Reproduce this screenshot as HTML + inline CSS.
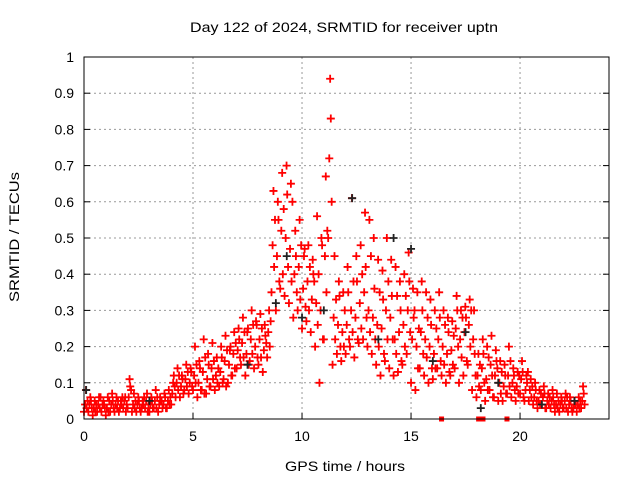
<!DOCTYPE html>
<html><head><meta charset="utf-8"><style>
body{margin:0;background:#fff;}
svg text{font-family:"Liberation Sans",sans-serif;font-size:14px;fill:#000;}
</style></head><body>
<svg id="chart" width="640" height="480" xmlns="http://www.w3.org/2000/svg">
<rect width="640" height="480" fill="#fff"/>
<text x="190" y="32" textLength="308" lengthAdjust="spacingAndGlyphs">Day 122 of 2024, SRMTID for receiver uptn</text>
<g id="grid"></g>
<g id="ticks"></g>
<g id="marks"></g>
<rect x="84" y="57" width="525" height="362" fill="none" stroke="#000" stroke-width="1"/>
<text x="285" y="471" textLength="120" lengthAdjust="spacingAndGlyphs">GPS time / hours</text>
<text transform="translate(19,302) rotate(-90)" textLength="130" lengthAdjust="spacingAndGlyphs">SRMTID / TECUs</text>
</svg>
<script>
const xTicks=[0,5,10,15,20];
const yTicks=[0,0.1,0.2,0.3,0.4,0.5,0.6,0.7,0.8,0.9,1];
const yTickLabels=["0","0.1","0.2","0.3","0.4","0.5","0.6","0.7","0.8","0.9","1"];
const step=0.2;
const hi=[0.08,0.06,0.05,0.06,0.05,0.06,0.07,0.06,0.05,0.06,0.11,0.07,0.06,0.05,0.07,0.06,0.08,0.06,0.07,0.08,
0.10,0.14,0.12,0.15,0.14,
0.20,0.16,0.22,0.18,0.21,0.17,0.20,0.23,0.19,0.24,
0.25,0.28,0.24,0.30,0.27,0.29,0.26,0.30,
0.63,0.60,0.68,0.70,0.65,
0.52,0.55,0.45,0.48,0.44,
0.56,0.50,0.67,
0.94,
0.45,0.38,0.35,
0.42,0.61,0.45,0.48,0.57,0.55,0.50,0.44,0.41,0.50,
0.44,0.42,0.38,0.40,0.46,0.36,0.35,0.38,
0.35,0.33,0.30,0.35,0.30,0.28,0.27,
0.34,0.30,0.31,0.33,0.30,
0.18,0.22,0.20,0.23,0.19,0.16,0.15,0.20,
0.14,0.13,0.16,0.12,0.11,
0.10,0.08,0.09,0.07,0.08,0.07,0.06,0.07,0.06,0.05,0.06,0.09];
const q3=[0.05,0.03,0.04,0.06,0.03,0.05,0.03,0.05,0.06,0.04,0.08,0.05,0.03,0.06,0.04,0.03,0.06,0.05,0.03,0.06,
0.09,0.12,0.07,0.13,0.09,
0.15,0.08,0.17,0.09,0.16,0.14,0.10,0.19,0.12,0.21,
0.17,0.24,0.15,0.26,0.17,0.25,0.21,0.27,
0.55,0.38,0.58,0.42,0.60,
0.35,0.48,0.31,0.42,0.38,
0.40,0.22,0.52,
0.60,
0.33,0.20,0.30,
0.22,0.38,0.22,0.40,0.28,0.45,0.22,0.35,0.18,0.38,
0.22,0.34,0.16,0.34,0.24,0.30,0.25,0.18,
0.28,0.14,0.25,0.16,0.26,0.13,0.23,
0.20,0.28,0.16,0.30,0.12,
0.15,0.10,0.17,0.06,0.14,0.13,0.07,0.16,
0.08,0.12,0.06,0.13,0.09,
0.05,0.07,0.03,0.06,0.04,0.05,0.03,0.06,0.03,0.04,0.05,0.04];
const mid=[0.04,0.04,0.03,0.04,0.04,0.03,0.04,0.04,0.03,0.05,0.06,0.04,0.04,0.03,0.05,0.04,0.05,0.04,0.04,0.05,
0.07,0.10,0.09,0.11,0.10,
0.12,0.10,0.13,0.11,0.14,0.12,0.13,0.16,0.15,0.18,
0.19,0.21,0.18,0.22,0.20,0.22,0.19,0.24,
0.48,0.45,0.52,0.50,0.47,
0.40,0.42,0.36,0.38,0.33,
0.32,0.30,0.45,
0.72,
0.28,0.26,0.24,
0.26,0.30,0.28,0.32,0.35,0.30,0.28,0.26,0.25,0.30,
0.28,0.22,0.24,0.26,0.30,0.22,0.20,0.24,
0.22,0.20,0.18,0.22,0.20,0.18,0.19,
0.25,0.22,0.24,0.26,0.22,
0.12,0.14,0.11,0.15,0.12,0.10,0.09,0.12,
0.10,0.09,0.11,0.08,0.08,
0.06,0.05,0.06,0.05,0.05,0.04,0.04,0.05,0.04,0.03,0.04,0.05];
const q1=[0.03,0.05,0.02,0.03,0.04,0.02,0.05,0.03,0.04,0.02,0.09,0.03,0.05,0.04,0.02,0.05,0.03,0.05,0.06,0.04,
0.12,0.08,0.11,0.09,0.13,
0.10,0.14,0.07,0.15,0.11,0.10,0.17,0.09,0.20,0.14,
0.22,0.17,0.25,0.18,0.26,0.17,0.23,0.20,
0.42,0.55,0.40,0.62,0.38,
0.45,0.33,0.47,0.30,0.40,
0.26,0.48,0.35,
0.83,
0.22,0.34,0.20,
0.35,0.24,0.38,0.25,0.42,0.24,0.36,0.20,0.33,0.22,
0.34,0.18,0.30,0.20,0.38,0.28,0.14,0.30,
0.17,0.26,0.14,0.28,0.15,0.24,0.15,
0.30,0.17,0.28,0.20,0.18,
0.09,0.18,0.08,0.12,0.16,0.07,0.12,0.09,
0.12,0.07,0.13,0.10,0.06,
0.08,0.04,0.07,0.04,0.06,0.03,0.05,0.03,0.05,0.04,0.03,0.07];
const lo=[0.02,0.02,0.01,0.02,0.02,0.01,0.02,0.02,0.02,0.03,0.03,0.02,0.02,0.02,0.03,0.02,0.03,0.02,0.03,0.03,
0.04,0.06,0.06,0.08,0.07,
0.08,0.06,0.08,0.07,0.09,0.08,0.09,0.11,0.10,0.12,
0.14,0.15,0.12,0.16,0.14,0.15,0.13,0.17,
0.35,0.30,0.36,0.34,0.32,
0.28,0.30,0.25,0.27,0.24,
0.20,0.10,0.22,
0.50,
0.15,0.18,0.16,
0.18,0.20,0.17,0.21,0.22,0.20,0.18,0.15,0.12,0.16,
0.14,0.12,0.13,0.15,0.18,0.10,0.08,0.14,
0.12,0.10,0.11,0.14,0.12,0.10,0.12,
0.14,0.10,0.12,0.15,0.08,
0.06,0.08,0.05,0.08,0.06,0.05,0.05,0.07,
0.06,0.05,0.07,0.05,0.05,
0.04,0.03,0.04,0.03,0.03,0.02,0.02,0.03,0.02,0.02,0.02,0.03];
const blackT=[0.1,3.0,7.5,8.8,9.3,10.0,11.0,12.3,13.5,14.2,15.0,16.0,17.5,18.2,19.0,21.0,22.5];
const blackV=[0.08,0.05,0.15,0.32,0.45,0.28,0.30,0.61,0.22,0.50,0.47,0.16,0.24,0.03,0.10,0.04,0.05];
const zeroT=[16.4,18.1,18.3,19.4];
const NS="http://www.w3.org/2000/svg";
const X0=84,X1=609,Y0=419,Y1=57,XMAX=24.08;
function xs(v){return X0+(X1-X0)*v/XMAX;}
function ys(v){return Y0-(Y0-Y1)*v;}
function mk(tag,a,p){const e=document.createElementNS(NS,tag);for(const k in a)e.setAttribute(k,a[k]);p.appendChild(e);return e;}
const grid=document.getElementById('grid'),ticks=document.getElementById('ticks'),marks=document.getElementById('marks');
xTicks.forEach(v=>{const x=xs(v);
 if(v>0){const g=mk('line',{x1:x,x2:x,y1:Y0,y2:Y1,stroke:'#999','stroke-dasharray':'2,3'},grid);
 
 }
 mk('line',{x1:x,x2:x,y1:Y0,y2:Y0-6,stroke:'#000'},ticks);
 const t=mk('text',{x:x,y:Y0+22,'text-anchor':'middle'},ticks);t.textContent=v;
 
 });
yTicks.forEach((v,i)=>{const y=ys(v);
 if(v>0&&v<1){const g=mk('line',{x1:X0,x2:X1,y1:y,y2:y,stroke:'#999','stroke-dasharray':'2,3'},grid);
 
 }
 mk('line',{x1:X0,x2:X0+6,y1:y,y2:y,stroke:'#000'},ticks);
 mk('line',{x1:X1,x2:X1-6,y1:y,y2:y,stroke:'#000'},ticks);
 const t=mk('text',{x:X0-10,y:y+5,'text-anchor':'end'},ticks);t.textContent=yTickLabels[i];
 
 });
function plus(t,v,c){const x=xs(t),y=ys(v);
 const p=mk('path',{d:`M${x-4},${y}h8M${x},${y-4}v8`,stroke:c,'stroke-width':1.8,fill:'none'},marks);
 
 }
const offs=[0,0.12,0.05,0.16,0.09];
[lo,q1,mid,q3,hi].forEach((arr,k)=>arr.forEach((v,i)=>plus(i*step+offs[k],v,'#f00')));
blackT.forEach((t,i)=>plus(t,blackV[i],'#222'));
zeroT.forEach(t=>{const r=mk('rect',{x:xs(t)-2.5,y:Y0-2.5,width:5,height:5,fill:'#f00'},marks);
 
 });
</script>
</body></html>
